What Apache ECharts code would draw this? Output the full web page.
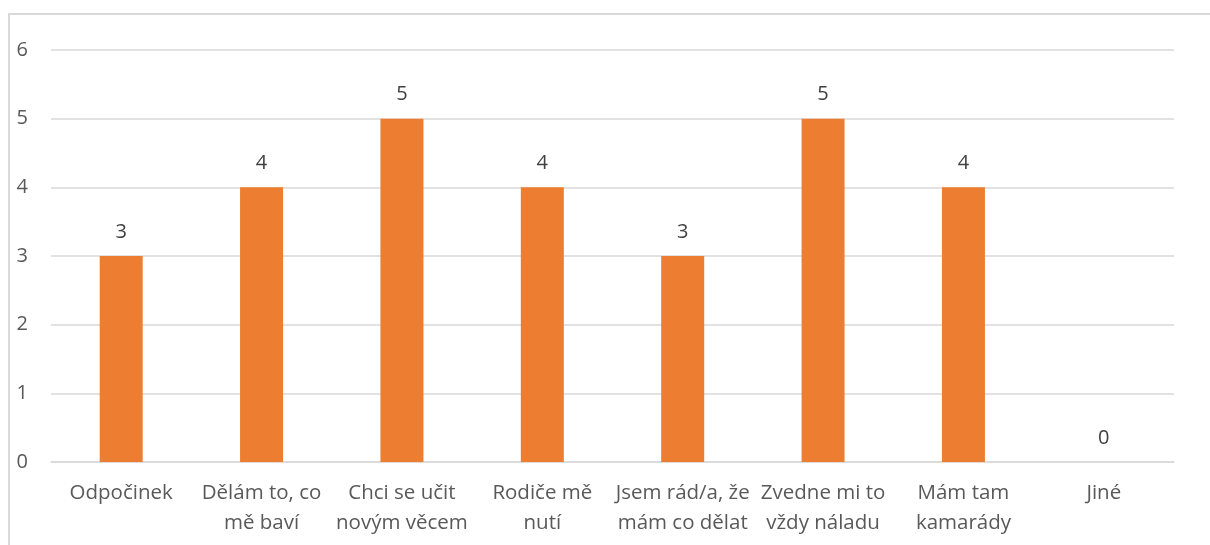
<!DOCTYPE html>
<html>
<head>
<meta charset="utf-8">
<script src="https://cdn.jsdelivr.net/npm/echarts@6/dist/echarts.min.js"></script>
<style>
    html, body { margin: 0; padding: 0; background: #fff; overflow: hidden; }
    #frame {
        position: absolute; left: 8px; top: 13px; width: 1220px; height: 560px;
        border: 2px solid #d9d9d9; box-sizing: border-box;
    }
    #chart { position: absolute; left: 0; top: 0; width: 1210px; height: 545px; }
</style>
</head>
<body>
<div id="frame"></div>
<div id="chart"></div>
<script>
var categories = [
    'Odpočinek',
    'Dělám to, co\nmě baví',
    'Chci se učit\nnovým věcem',
    'Rodiče mě\nnutí',
    'Jsem rád/a, že\nmám co dělat',
    'Zvedne mi to\nvždy náladu',
    'Mám tam\nkamarády',
    'Jiné'
];
var values = [3, 4, 5, 4, 3, 5, 4, 0];

var chart = echarts.init(document.getElementById('chart'));
var textFont = '"Open Sans", "Noto Sans", sans-serif';

var option = {
    animation: false,
    grid: {
        left: 51,
        right: 36,
        top: 50,
        bottom: 83
    },
    xAxis: {
        type: 'category',
        data: categories,
        axisLine: { show: true, lineStyle: { color: '#d9d9d9', width: 1.5 } },
        axisTick: { show: false },
        axisLabel: {
            color: '#595959',
            fontFamily: textFont,
            fontSize: 20.5,
            lineHeight: 30,
            margin: 16,
            interval: 0
        }
    },
    yAxis: {
        type: 'value',
        min: 0,
        max: 6,
        interval: 1,
        axisLine: { show: false },
        axisTick: { show: false },
        splitLine: { lineStyle: { color: '#d9d9d9', width: 1.5 } },
        axisLabel: {
            color: '#595959',
            fontFamily: textFont,
            fontSize: 20,
            margin: 23
        }
    },
    series: [{
        type: 'bar',
        data: values,
        barWidth: 43,
        itemStyle: { color: '#ed7d31' },
        label: {
            show: true,
            position: 'top',
            distance: 14,
            color: '#404040',
            fontFamily: textFont,
            fontSize: 20
        }
    }]
};
chart.setOption(option);
</script>
</body>
</html>
